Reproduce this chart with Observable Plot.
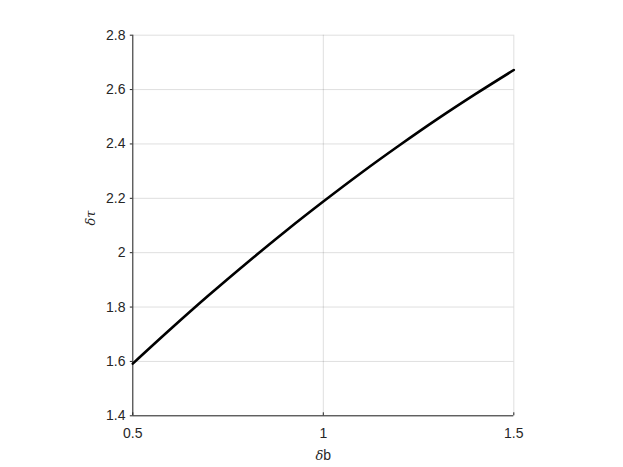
<!DOCTYPE html>
<html>
<head>
<meta charset="utf-8">
<script src="https://cdn.jsdelivr.net/npm/d3@7"></script>
<script src="https://cdn.jsdelivr.net/npm/@observablehq/plot@0.6"></script>
<style>
  html, body { margin: 0; padding: 0; background: #fff; }
  #chart { width: 623px; height: 467px; }
</style>
</head>
<body>
<div id="chart"></div>
<script>
// Data
const deltaB   = [0.5, 0.6, 0.7, 0.8, 0.9, 1.0, 1.1, 1.2, 1.3, 1.4, 1.5];
const deltaTau = [1.592, 1.720, 1.844, 1.963, 2.078, 2.188, 2.294, 2.395, 2.492, 2.584, 2.672];
const xTicks = [0.5, 1, 1.5];
const yTicks = [1.4, 1.6, 1.8, 2, 2.2, 2.4, 2.6, 2.8];
const xLabel = "δb";
const yLabel = "δτ";

const rows = deltaB.map((x, i) => ({x, y: deltaTau[i]}));
const axisColor = "#262626";

const plot = Plot.plot({
  width: 623,
  height: 467,
  marginLeft: 132.3,
  marginRight: 109.7,
  marginTop: 34.7,
  marginBottom: 51.7,
  style: {fontFamily: "'Liberation Sans', Arial, Helvetica, sans-serif", fontSize: "14px", color: axisColor, background: "#fff"},
  x: {domain: [0.5, 1.5]},
  y: {domain: [1.4, 2.8]},
  marks: [
    Plot.gridX(xTicks, {stroke: axisColor, strokeOpacity: 0.15, strokeWidth: 1}),
    Plot.gridY(yTicks, {stroke: axisColor, strokeOpacity: 0.15, strokeWidth: 1}),
    Plot.axisY({ticks: yTicks, tickSize: 2.5, tickPadding: 4.8, tickFormat: d => String(d), label: null, stroke: axisColor, fill: axisColor}),
    Plot.axisX({ticks: xTicks, tickSize: -3, tickPadding: 15, tickFormat: d => String(d), label: null, stroke: axisColor, fill: axisColor}),
    Plot.ruleX([0.5], {stroke: axisColor, strokeWidth: 1}),
    Plot.ruleY([1.4], {stroke: axisColor, strokeWidth: 1}),
    Plot.line(rows, {x: "x", y: "y", stroke: "#000", strokeWidth: 2.6, curve: "catmull-rom"}),
    Plot.text([xLabel], {text: d => d, frameAnchor: "bottom", dy: 40, lineAnchor: "middle", fill: axisColor, fontSize: 14, className: "xlab"}),
    Plot.text([yLabel], {text: d => d, frameAnchor: "left", dx: -42, rotate: -90, lineAnchor: "middle", fill: axisColor, fontSize: 14, className: "ylab"})
  ]
});
document.getElementById("chart").appendChild(plot);

// Style the TeX-like labels: italic Greek letters
d3.select(plot).selectAll("text").each(function() {
  const t = d3.select(this);
  const s = t.text();
  if (s === xLabel) {
    t.text("");
    t.append("tspan").attr("font-family", "'DejaVu Serif', serif").attr("font-style", "italic").attr("font-size", 13).text("δ");
    t.append("tspan").text("b");
  } else if (s === yLabel) {
    t.text("");
    t.append("tspan").attr("font-family", "'DejaVu Serif', serif").attr("font-style", "italic").attr("font-size", 13).text("δτ");
  }
});
</script>
</body>
</html>
